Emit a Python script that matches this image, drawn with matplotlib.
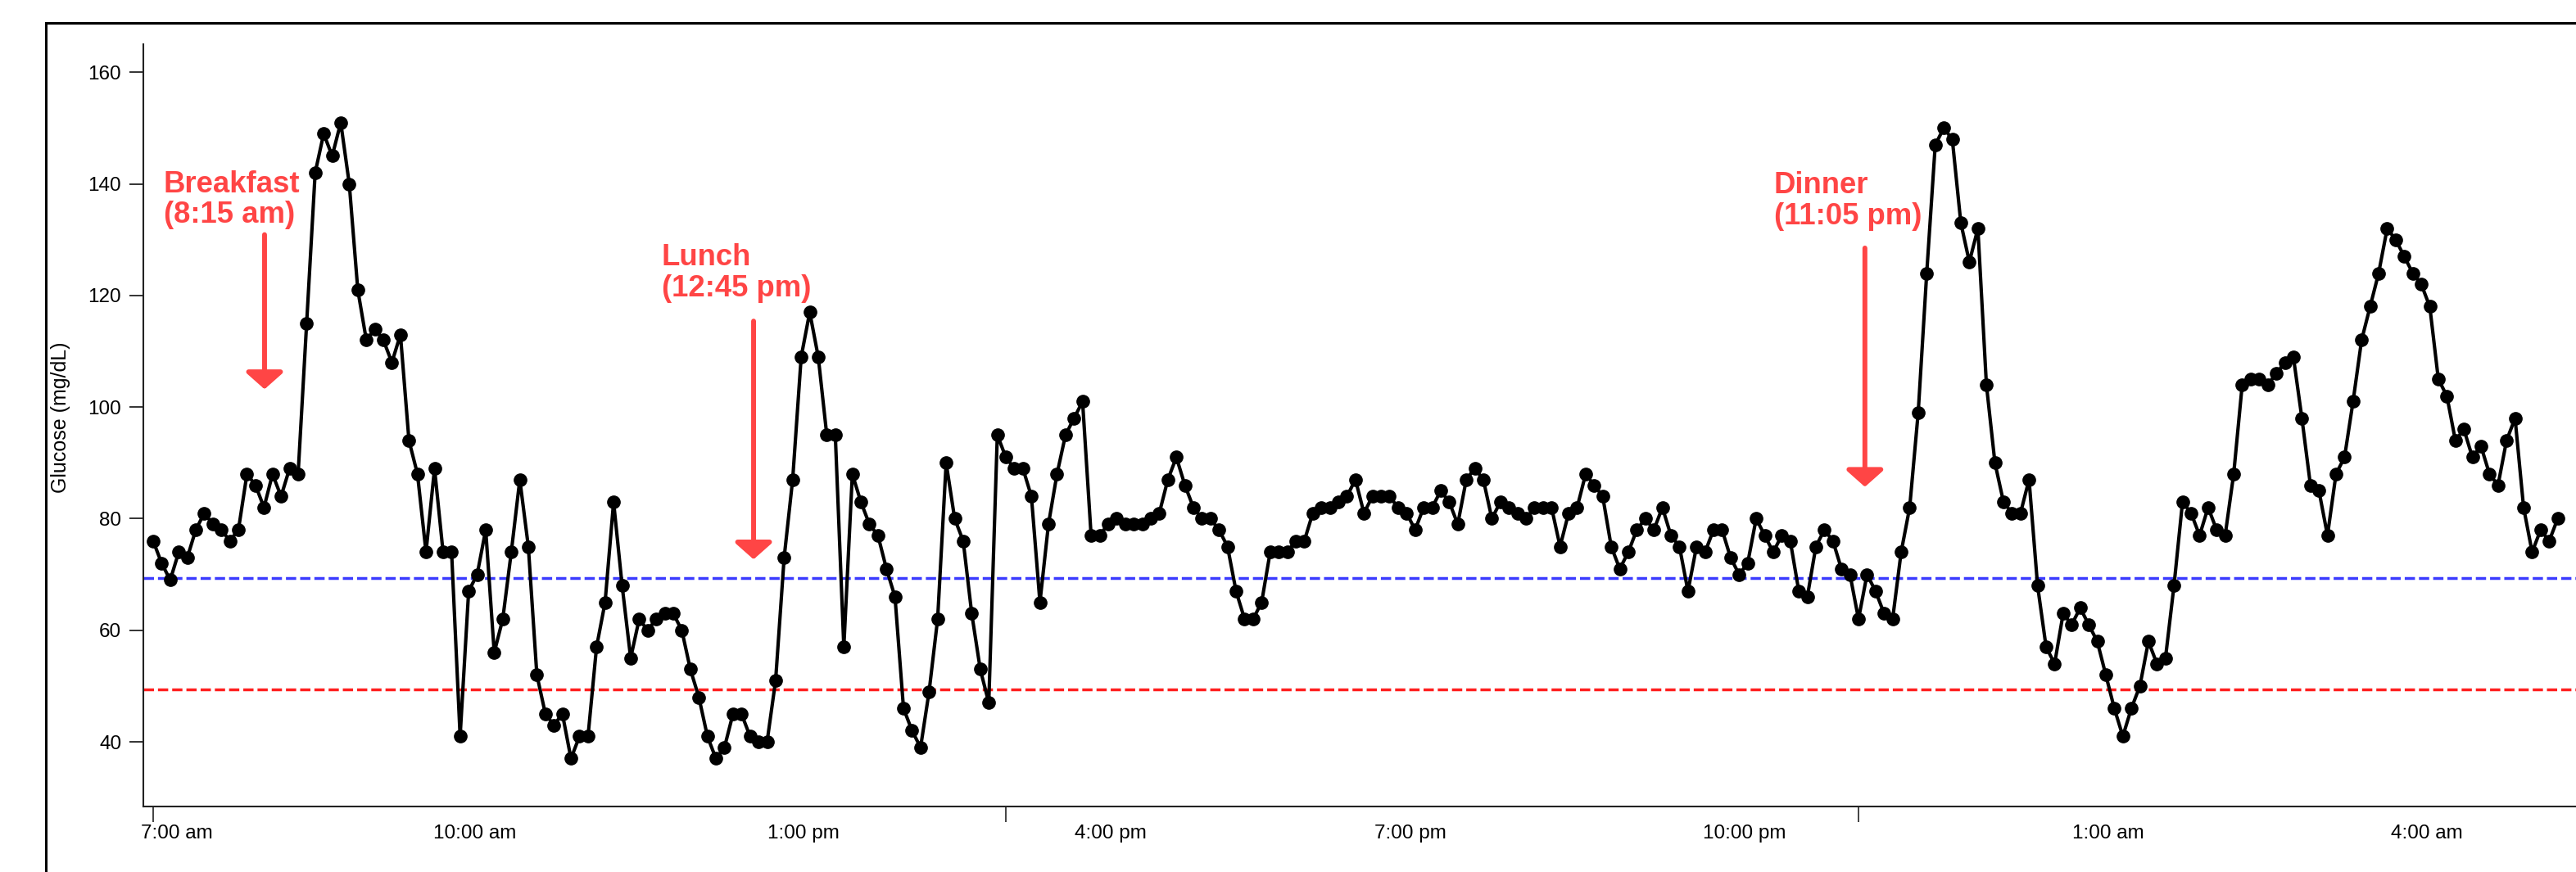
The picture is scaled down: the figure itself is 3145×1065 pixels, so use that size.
import numpy as np
import matplotlib.pyplot as plt
from matplotlib.patches import Rectangle

plt.rcParams['font.family'] = ['Liberation Sans', 'DejaVu Sans']

# CGM readings (mg/dL), one every few minutes starting 7:00 am
glucose = [76, 72, 69, 74, 73, 78, 81, 79, 78, 76, 78, 88, 86, 82, 88, 84, 89, 88, 115, 142,
           149, 145, 151, 140, 121, 112, 114, 112, 108, 113, 94, 88, 74, 89, 74, 74, 41, 67, 70, 78,
           56, 62, 74, 87, 75, 52, 45, 43, 45, 37,
           41, 41, 57, 65, 83, 68, 55, 62, 60, 62, 63, 63, 60, 53, 48, 41, 37, 39, 45, 45,
           41, 40, 40, 51, 73, 87, 109, 117, 109, 95, 95, 57, 88, 83, 79, 77, 71, 66, 46, 42,
           39, 49, 62, 90, 80, 76, 63, 53,
           47, 95, 91, 89, 89, 84, 65, 79, 88, 95, 98, 101, 77, 77, 79, 80, 79, 79, 79, 80,
           81, 87, 91, 86, 82, 80, 80, 78, 75, 67, 62, 62, 65, 74, 74, 74, 76, 76, 81, 82,
           82, 83, 84, 87, 81, 84, 84, 84,
           82, 81, 78, 82, 82, 85, 83, 79, 87, 89, 87, 80, 83, 82, 81, 80, 82, 82, 82, 75,
           81, 82, 88, 86, 84, 75, 71, 74, 78, 80, 78, 82, 77, 75, 67, 75, 74, 78, 78, 73,
           70, 72, 80, 77, 74, 77, 76, 67,
           66, 75, 78, 76, 71, 70, 62, 70, 67, 63, 62, 74, 82, 99, 124, 147, 150, 148, 133, 126,
           132, 104, 90, 83, 81, 81, 87, 68, 57, 54, 63, 61, 64, 61, 58, 52, 46, 41, 46, 50,
           58, 54, 55, 68, 83, 81, 77, 82,
           78, 77, 88, 104, 105, 105, 104, 106, 108, 109, 98, 86, 85, 77, 88, 91, 101, 112, 118, 124,
           132, 130, 127, 124, 122, 118, 105, 102, 94, 96, 91, 93, 88, 86, 94, 98, 82, 74, 78, 76,
           80]
sample_minutes = 4.8
minutes = np.arange(len(glucose)) * sample_minutes  # minutes after 7:00 am

tick_minutes = [0, 480, 960]
label_minutes = [13.4, 181.2, 366.1, 539.0, 707.8, 895.9, 1100.6, 1280.0]
label_text = ["7:00 am", "10:00 am", "1:00 pm", "4:00 pm", "7:00 pm", "10:00 pm", "1:00 am", "4:00 am"]
y_ticks = [40, 60, 80, 100, 120, 140, 160]

low_line = 69.3
urgent_line = 49.4

meal_text = ["Breakfast\n(8:15 am)", "Lunch\n(12:45 pm)", "Dinner\n(11:05 pm)"]
meal_text_x = [6.0, 286.3, 912.4]
meal_text_y = [142.5, 129.4, 142.3]
meal_arrow_x = [62.7, 338.0, 963.6]
meal_arrow_top = [130.9, 115.4, 128.5]
meal_arrow_tip = [103.2, 72.7, 85.7]

red = '#ff4545'

fig = plt.figure(figsize=(31.45, 10.65), dpi=100)
ax = fig.add_axes([0.0558, 0.0751, 0.9442, 0.8742])

ax.axhline(low_line, color='#3b3bff', lw=2.5, dashes=(3.6, 1.4))
ax.axhline(urgent_line, color='#ff1f1f', lw=2.5, dashes=(3.6, 1.4))

ax.plot(minutes, glucose, color='black', lw=3.0, marker='o', ms=11, zorder=3)

for txt, tx, ty, axx, top, tip in zip(meal_text, meal_text_x, meal_text_y,
                                       meal_arrow_x, meal_arrow_top, meal_arrow_tip):
    ax.text(tx, ty, txt, color=red, fontsize=26.3, fontweight='bold',
            ha='left', va='top', linespacing=1.1)
    ax.annotate('', xy=(axx, tip), xytext=(axx, top),
                arrowprops=dict(arrowstyle='-|>,head_length=0.62,head_width=0.7',
                                mutation_scale=20, color=red, lw=4.3,
                                shrinkA=0, shrinkB=0))

ax.set_xlim(-5.3, 1363.9)
ax.set_ylim(28.41, 165.03)

ax.set_xticks(label_minutes)
ax.set_xticklabels(label_text)
ax.set_xticks(tick_minutes, minor=True)
ax.tick_params(axis='x', which='major', length=0, pad=16, labelsize=17.5)
ax.tick_params(axis='x', which='minor', length=13.7, width=1.2, color='#222222')
ax.set_yticks(y_ticks)
ax.tick_params(axis='y', length=12.5, width=1.4, pad=7.2, labelsize=17.5, color='#333333')

ax.set_ylabel('Glucose (mg/dL)', fontsize=18)
ax.yaxis.set_label_coords(-0.030, 0.51)

for side in ['top', 'right']:
    ax.spines[side].set_visible(False)
for side in ['left', 'bottom']:
    ax.spines[side].set_linewidth(1.5)
    ax.spines[side].set_color('#222222')

# outer frame (cropped on right and bottom)
fig.add_artist(Rectangle((55.8 / 3145, -0.5), 2, 1 - 28 / 1065 + 0.5,
                         transform=fig.transFigure, fill=False, lw=2.2,
                         ec='black', clip_on=False))

fig.savefig('out.png', dpi=100)
